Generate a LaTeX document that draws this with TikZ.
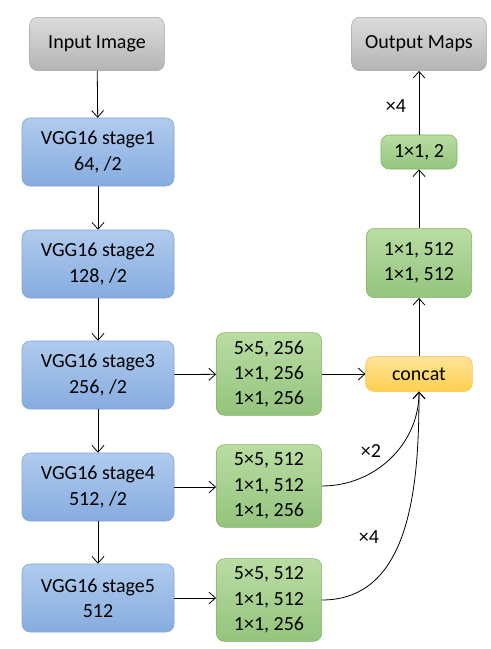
\documentclass[tikz,border=0pt]{standalone}
\usepackage{fontspec}
\setmainfont{Carlito}
\usetikzlibrary{arrows.meta}
\definecolor{bluetop}{HTML}{B0CBEE}
\definecolor{bluebot}{HTML}{86ACDF}
\definecolor{blueline}{HTML}{7FA3D4}
\definecolor{greentop}{HTML}{BADCA3}
\definecolor{greenbot}{HTML}{93C47D}
\definecolor{greenline}{HTML}{82B366}
\definecolor{greytop}{HTML}{DCDCDC}
\definecolor{greybot}{HTML}{B4B4B4}
\definecolor{greyline}{HTML}{A6A6A6}
\definecolor{cattop}{HTML}{FFE39A}
\definecolor{catbot}{HTML}{FFD04D}
\definecolor{catline}{HTML}{F2C040}
\tikzset{
  box/.style={rounded corners=6pt, align=center, inner sep=0pt,
    font=\fontsize{15}{19}\selectfont},
  stagebox/.style={box, draw=blueline, top color=bluetop, bottom color=bluebot,
    minimum width=114pt, minimum height=51pt, font=\fontsize{15}{19}\selectfont},
  convbox/.style={box, draw=greenline, top color=greentop, bottom color=greenbot},
  endbox/.style={box, draw=greyline, top color=greytop, bottom color=greybot,
    minimum width=101pt, minimum height=40pt},
  catbox/.style={box, draw=catline, top color=cattop, bottom color=catbot,
    minimum width=80pt, minimum height=26pt},
  arr/.style={-{Straight Barb[length=5pt,width=9pt]}, line width=0.6pt},
  times/.style={font=\fontsize{15}{18}\selectfont}
}
\begin{document}
\begin{tikzpicture}[x=0.75pt,y=-0.75pt]
  \useasboundingbox (0,0) rectangle (491,649);
  \node[endbox] (input) at (97,44) {Input Image};
  \node[stagebox] (s1) at (98,152) {VGG16 stage1\\64, /2};
  \node[stagebox] (s2) at (98,264) {VGG16 stage2\\128, /2};
  \node[stagebox] (s3) at (98,375) {VGG16 stage3\\256, /2};
  \node[stagebox] (s4) at (98,487) {VGG16 stage4\\512, /2};
  \node[stagebox] (s5) at (98,598) {VGG16 stage5\\512};
  \node[convbox, minimum width=79pt, minimum height=62pt] (c3) at (269,374) {5×5, 256\\1×1, 256\\1×1, 256};
  \node[convbox, minimum width=79pt, minimum height=62pt] (c4) at (269,486) {5×5, 512\\1×1, 512\\1×1, 256};
  \node[convbox, minimum width=79pt, minimum height=62pt] (c5) at (269,600) {5×5, 512\\1×1, 512\\1×1, 256};
  \node[catbox] (cat) at (419,374) {concat};
  \node[convbox, minimum width=79pt, minimum height=52pt] (f1) at (419,263) {1×1, 512\\1×1, 512};
  \node[convbox, minimum width=57pt, minimum height=25.5pt] (f2) at (419,152) {1×1, 2};
  \node[endbox] (output) at (419,44) {Output Maps};
  \draw[arr] (input) -- (s1);
  \draw[arr] (s1) -- (s2);
  \draw[arr] (s2) -- (s3);
  \draw[arr] (s3) -- (s4);
  \draw[arr] (s4) -- (s5);
  \draw[arr] (s3) -- (c3);
  \draw[arr] (s4.east) -- (c4.west |- s4.east);
  \draw[arr] (s5.east) -- (c5.west |- s5.east);
  \draw[arr] (c3) -- (cat);
  \draw[arr] (c4.east) to[out=0,in=-90] (cat.south);
  \draw[arr] (c5.east) to[out=0,in=-90] (cat.south);
  \draw[arr] (cat) -- (f1);
  \draw[arr] (f1) -- (f2);
  \draw[arr] (f2) -- (output);
  \node[times] (up4) at (396,106) {×4};
  \node[times] (up2) at (371,451) {×2};
  \node[times] (up4b) at (369,537) {×4};
\end{tikzpicture}
\end{document}
